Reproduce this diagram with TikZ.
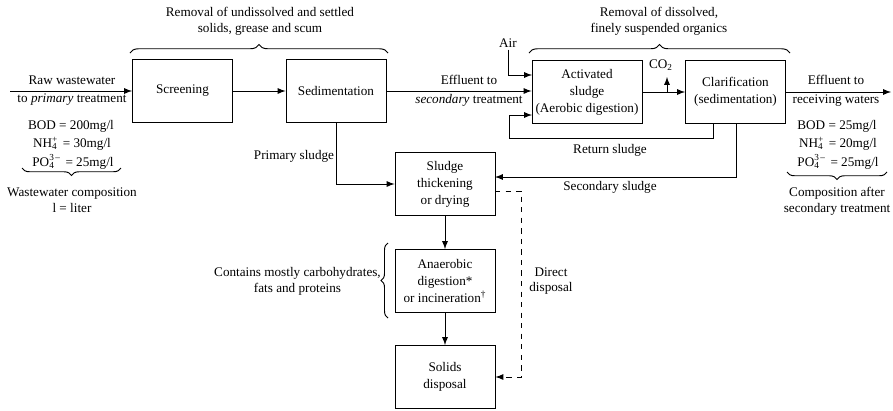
\documentclass[tikz,border=0pt]{standalone}
\usepackage{fontspec}
\setmainfont{Liberation Serif}
\usetikzlibrary{calc, positioning, arrows, decorations.pathreplacing}
\newcommand\procbox[4]{\node[procbox] (#1) at (#2,#3) {#4};}
\newcommand\ionsym[2]{\rlap{\textsubscript{#1}}\textsuperscript{#2}\hspace{0.1em}}

\begin{document}
\begin{tikzpicture}[x=0.02cm, y=-0.02cm, font=\fontsize{7.5}{9}\selectfont, >=latex, line width=0.55pt,
  procbox/.style={draw, align=center, minimum width=2cm, minimum height=1.26cm, inner sep=1pt, font=\fontsize{7.5}{9.6}\selectfont},
  grpbrace/.style={decorate, decoration={brace, amplitude=0.17cm}},
  lbl/.style={align=center, inner sep=1pt},
  comp/.style={inner sep=0pt}]
\useasboundingbox (0,0) rectangle (893,410);

% process boxes
\procbox{screen}{182.5}{91}{Screening};
\procbox{sedim}{336}{91}{Sedimentation};
\node[procbox, minimum width=2.2cm] (activ) at (587,92) {Activated\\sludge\\(Aerobic digestion)};
\procbox{clarif}{735.5}{92}{Clarification\\(sedimentation)};
\procbox{thick}{445}{184}{Sludge\\thickening\\or drying};
\procbox{anaer}{445}{281}{Anaerobic\\digestion*\\or incineration\textsuperscript{\dag}};
\procbox{solids}{445}{377}{Solids\\disposal};

% labels
\node[lbl] (rawtop) at (72,80) {Raw wastewater};
\node[lbl] (rawbot) at (72,100) {to \textit{primary} treatment};
\node[comp] (rawbod) at (71,126) {BOD = 200mg/l};
\node[comp] (rawnh) at (72,144) {NH\ionsym{4}{+} = 30mg/l};
\node[comp] (rawpo) at (73,162) {PO\ionsym{4}{3\,--} = 25mg/l};
\node[lbl] (rawnote) at (72,200) {Wastewater composition\\l = liter};
\node[lbl] (efftop) at (469,80) {Effluent to};
\node[lbl] (effbot) at (469,100) {\textit{secondary} treatment};
\node[lbl] (outtop) at (836,80) {Effluent to};
\node[lbl] (outbot) at (836,101) {receiving waters};
\node[comp] (outbod) at (837,126) {BOD = 25mg/l};
\node[comp] (outnh) at (838,144) {NH\ionsym{4}{+} = 20mg/l};
\node[comp] (outpo) at (838,162) {PO\ionsym{4}{3\,--} = 25mg/l};
\node[lbl] (outnote) at (837,201) {Composition after\\secondary treatment};
\node[lbl] (prim) at (260,21) {Removal of undissolved and settled\\solids, grease and scum};
\node[lbl] (sec) at (659,21) {Removal of dissolved,\\finely suspended organics};
\node[lbl] (air) at (508,43) {Air};
\node[lbl] (co2) at (661,65) {CO\textsubscript{2}};
\node[lbl] (retlbl) at (610,150) {Return sludge};
\node[lbl] (seclbl) at (610,187) {Secondary sludge};
\node[lbl] (primlbl) at (294,156) {Primary sludge};
\node[lbl] (direct) at (551,281) {Direct\\disposal};
\node[lbl, anchor=east] (contains) at (383,281) {Contains mostly carbohydrates,\\fats and proteins};

% helper points
\coordinate (rawin) at (10,91);
\coordinate (effout) at (891,92);
\coordinate (airin) at (532,75);
\coordinate (co2pt) at (667,92);
\coordinate (co2top) at (667,77);
\coordinate (retout) at (713,123);
\coordinate (retin) at (532,115);
\coordinate (secout) at (736,123);
\coordinate (secin) at (495,177);
\coordinate (dashout) at (495,191);

% main flow
\draw[->] (rawin) -- (screen.west);
\draw[->] (screen) -- (sedim);
\draw[->] (sedim.east) -- (sedim.east -| activ.west);
\draw[->] (activ.east) -- (clarif.west);
\draw[->] (co2pt) -- (co2top);
\draw[->] (clarif.east) -- (effout);
\draw[->] (air.south) |- (airin);
\draw[->] (retout) -- (713,138) -- (509,138) |- (retin);
\draw[->] (secout) |- (secin);
\draw[->] (sedim.south) |- (thick.west);
\draw[->] (thick) -- (anaer);
\draw[->] (anaer) -- (solids);
\draw[->, dashed] (dashout) -- (521,191) |- (solids.east);

% braces
\draw[grpbrace] (130,53) -- (388,53);
\draw[grpbrace] (529,53) -- (790,53);
\draw[grpbrace, decoration={amplitude=0.15cm}] (121,168) -- (22,168);
\draw[grpbrace, decoration={amplitude=0.15cm}] (887,172) -- (787,172);
\draw[grpbrace, decoration={amplitude=0.14cm}] (388,318) -- (388,243);
\end{tikzpicture}
\end{document}
